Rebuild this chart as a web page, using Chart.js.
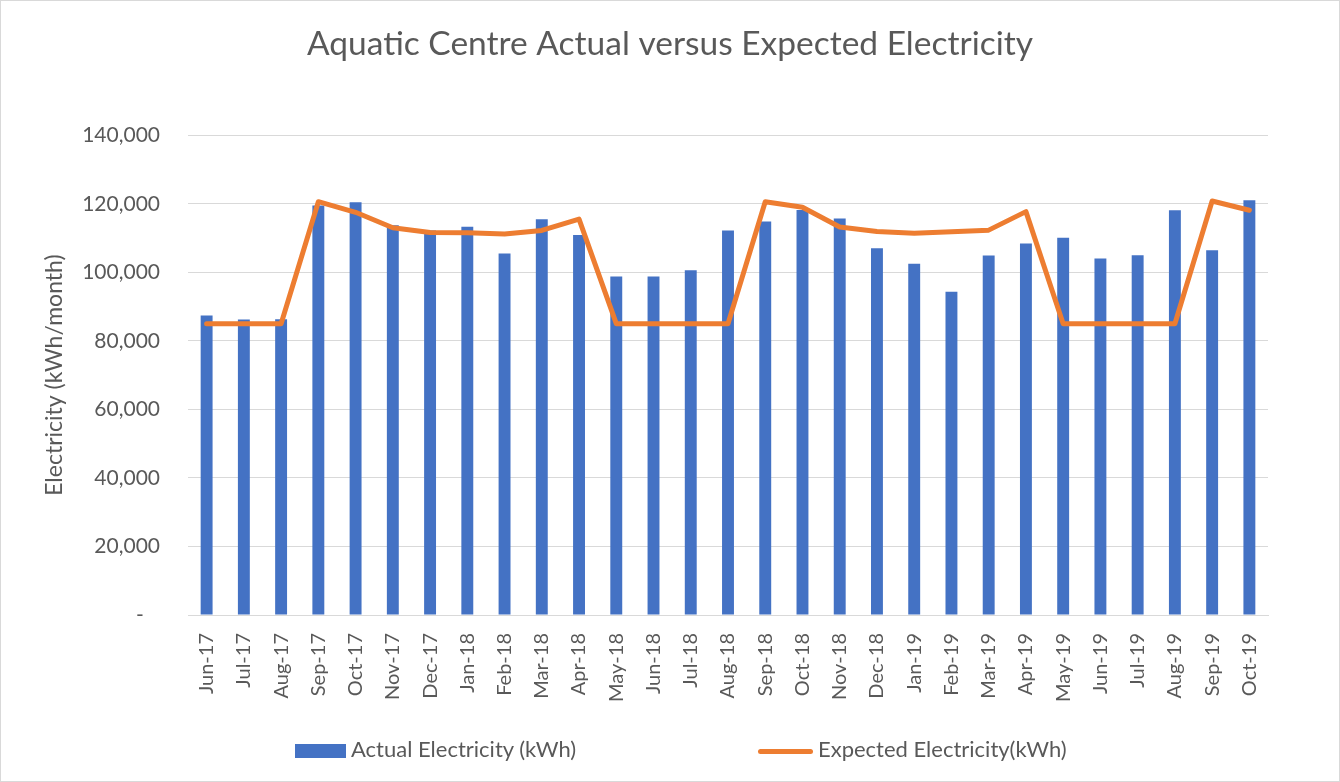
<!DOCTYPE html>
<html>
<head>
<meta charset="utf-8">
<script src="https://cdn.jsdelivr.net/npm/chart.js@4"></script>
<style>
  body { margin: 0; background: #fff; }
  #wrap { position: relative; width: 1340px; height: 782px; box-sizing: border-box; border: 1px solid #d9d9d9; }
  #c { position: absolute; left: 0; top: 0; }
  .leg { position: absolute; top: 735px; font-family: Lato, sans-serif; font-size: 22px; color: #595959; line-height: 26px; white-space: nowrap; }
  .leg .sw { display: inline-block; vertical-align: middle; margin-right: 5px; }
</style>
</head>
<body>
<div id="wrap">
  <canvas id="c" width="1338" height="780"></canvas>
  <div class="leg" style="left:294px"><span class="sw" style="width:51px;height:14px;background:#4472c4"></span>Actual Electricity (kWh)</div>
  <div class="leg" style="left:757px"><span class="sw" style="width:55px;height:5px;border-radius:3px;background:#ed7d31"></span>Expected Electricity(kWh)</div>
</div>
<script>
const months = ["Jun-17", "Jul-17", "Aug-17", "Sep-17", "Oct-17", "Nov-17", "Dec-17", "Jan-18", "Feb-18", "Mar-18",
  "Apr-18", "May-18", "Jun-18", "Jul-18", "Aug-18", "Sep-18", "Oct-18", "Nov-18", "Dec-18", "Jan-19",
  "Feb-19", "Mar-19", "Apr-19", "May-19", "Jun-19", "Jul-19", "Aug-19", "Sep-19", "Oct-19"];

const actual = [87400, 86200, 86300, 119500, 120400, 113700, 112200, 113300, 105500, 115500,
  110900, 98800, 98800, 100600, 112200, 114800, 118200, 115700, 107000, 102500,
  94300, 104900, 108400, 110100, 104000, 105000, 118100, 106400, 121000];

const expected = [85000, 85000, 85000, 120600, 117500, 113000, 111600, 111500, 111200, 112200,
  115500, 85000, 85000, 85000, 85000, 120600, 119000, 113200, 111900, 111400,
  111800, 112300, 117700, 85000, 85000, 85000, 85000, 120800, 118100];

const yTicks = [0, 20000, 40000, 60000, 80000, 100000, 120000, 140000];

Chart.defaults.font.family = "Lato, sans-serif";
Chart.defaults.color = "#595959";

new Chart(document.getElementById("c").getContext("2d"), {
  data: {
    labels: months,
    datasets: [
      {
        type: "line",
        label: "Expected Electricity(kWh)",
        data: expected,
        borderColor: "#ed7d31",
        backgroundColor: "#ed7d31",
        borderWidth: 5,
        pointRadius: 0,
        borderCapStyle: "round",
        borderJoinStyle: "round",
        tension: 0,
        order: 0,
      },
      {
        type: "bar",
        label: "Actual Electricity (kWh)",
        data: actual,
        backgroundColor: "#4472c4",
        barPercentage: 0.32,
        categoryPercentage: 1,
        order: 1,
      },
    ],
  },
  options: {
    responsive: false,
    animation: false,
    layout: { padding: { left: 0, right: 0, top: 0, bottom: 66 } },
    plugins: {
      legend: { display: false },
      tooltip: { enabled: false },
      title: {
        display: true,
        text: "Aquatic Centre Actual versus Expected Electricity",
        font: { size: 33.5, weight: "normal" },
        color: "#595959",
        padding: { top: 23, bottom: 71 },
      },
    },
    scales: {
      x: {
        grid: { display: false, drawTicks: false },
        border: { color: "#d9d9d9" },
        ticks: { autoSkip: false, minRotation: 90, maxRotation: 90, padding: 18, font: { size: 20 } },
        afterFit: (scale) => { scale.height = 100; },
      },
      y: {
        min: 0,
        max: 140000,
        afterBuildTicks: (scale) => { scale.ticks = yTicks.map((v) => ({ value: v })); },
        grid: { color: "#d9d9d9", lineWidth: 1, drawTicks: false },
        border: { display: false },
        ticks: {
          padding: 28,
          font: { size: 21 },
          callback: (v) => (v === 0 ? "-   " : v.toLocaleString("en-US")),
        },
        title: {
          display: true,
          text: "Electricity (kWh/month)",
          font: { size: 23 },
          color: "#595959",
          padding: { top: 40 },
        },
        afterFit: (scale) => { scale.width = 187; },
      },
      // empty right-hand axis that only reserves the right margin
      yRight: {
        position: "right",
        grid: { display: false, drawTicks: false },
        border: { display: false },
        ticks: { display: false },
        afterFit: (scale) => { scale.width = 71; },
      },
    },
  },
});
</script>
</body>
</html>
